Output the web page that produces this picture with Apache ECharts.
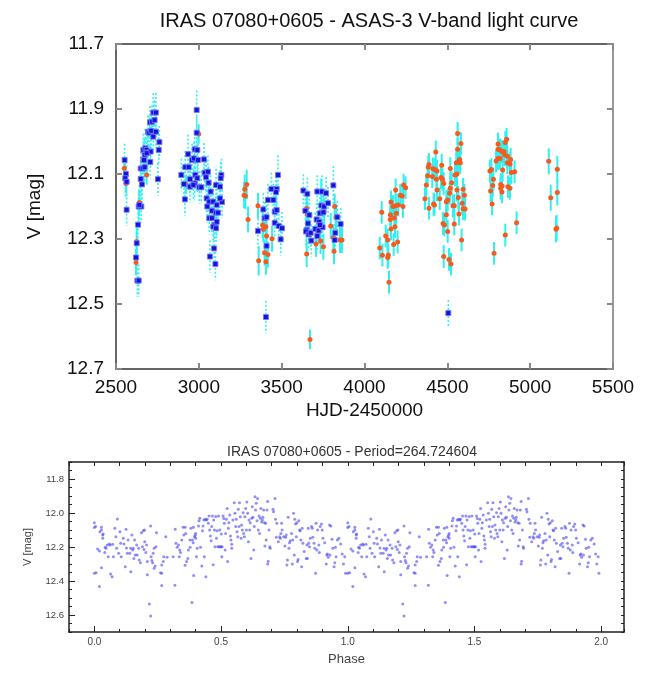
<!DOCTYPE html>
<html>
<head>
<meta charset="utf-8">
<script src="https://cdn.jsdelivr.net/npm/echarts@6/dist/echarts.min.js"></script>
<style>html,body{margin:0;padding:0;background:#fff}#c{width:667px;height:673px}</style>
</head>
<body>
<div id="c"></div>
<script>
// Top panel: [HJD-2450000, V mag, error]
const blueObs = [
[2552,12.057,0.05],[2560,12.100,0.05],[2556,12.113,0.06],[2564,12.124,0.05],[2564,12.210,0.05],
[2629,12.428,0.05],[2637,12.428,0.05],[2621,12.357,0.05],[2625,12.313,0.06],[2633,12.256,0.05],[2637,12.200,0.05],[2653,12.200,0.05],[2641,12.195,0.06],[2649,12.115,0.05],[2657,12.132,0.06],[2649,12.083,0.05],[2661,12.083,0.05],[2673,12.079,0.05],[2665,12.057,0.05],[2669,12.057,0.06],[2665,12.026,0.05],[2677,12.021,0.06],[2685,12.026,0.05],[2693,12.034,0.05],[2709,12.031,0.05],[2673,12.041,0.05],[2685,12.036,0.06],[2707,12.063,0.05],[2693,11.970,0.05],[2701,11.973,0.05],[2713,11.967,0.06],[2725,11.985,0.05],[2705,11.941,0.05],[2717,11.939,0.05],[2733,11.934,0.06],[2725,11.911,0.06],[2741,11.911,0.06],[2741,11.970,0.05],[2762,12.002,0.05],[2758,12.026,0.05],[2753,12.116,0.05],
[2894,12.103,0.05],[2916,12.178,0.05],[2910,12.131,0.05],[2918,12.079,0.05],[2939,12.079,0.05],[2935,12.039,0.06],[2947,12.116,0.05],[2947,12.139,0.05],[2959,12.057,0.05],[2971,12.052,0.05],[2975,12.024,0.05],[2991,12.026,0.05],[2995,12.057,0.05],[2979,12.103,0.05],[2991,12.113,0.05],[2987,11.973,0.05],[2987,11.903,0.06],[2975,12.129,0.05],[2967,12.134,0.05],[3003,12.141,0.05],[3015,12.141,0.05],[3031,12.055,0.05],[3035,12.096,0.05],[3055,12.093,0.05],[3043,12.110,0.05],[3059,12.127,0.05],[3047,12.175,0.05],[3063,12.185,0.05],[3051,12.200,0.05],[3071,12.154,0.05],[3087,12.185,0.05],[3079,12.213,0.05],[3108,12.195,0.05],[3063,12.236,0.05],[3079,12.236,0.05],[3104,12.219,0.05],[3116,12.219,0.05],[3096,12.257,0.05],[3108,12.247,0.05],[3087,12.262,0.05],[3104,12.267,0.05],[3092,12.329,0.05],[3067,12.354,0.05],[3100,12.377,0.05],[3104,12.134,0.05],[3128,12.139,0.05],[3140,12.186,0.05],[3136,12.103,0.05],[3132,12.113,0.05],[3128,12.175,0.05],
[3357,12.275,0.05],[3389,12.209,0.05],[3397,12.236,0.05],[3409,12.233,0.05],[3417,12.180,0.05],[3450,12.180,0.05],[3438,12.146,0.05],[3470,12.146,0.05],[3466,12.156,0.05],[3478,12.103,0.06],[3458,12.216,0.05],[3470,12.211,0.05],[3458,12.250,0.05],[3482,12.260,0.05],[3502,12.267,0.05],[3494,12.301,0.05],[3409,12.321,0.05],[3405,12.540,0.05],
[3631,12.151,0.05],[3655,12.161,0.05],[3643,12.213,0.05],[3667,12.226,0.05],[3659,12.252,0.05],[3651,12.272,0.05],[3647,12.277,0.05],[3663,12.286,0.05],[3675,12.281,0.05],[3679,12.305,0.05],[3715,12.154,0.05],[3743,12.154,0.05],[3768,12.159,0.05],[3739,12.197,0.05],[3756,12.200,0.05],[3780,12.190,0.05],[3731,12.221,0.05],[3752,12.218,0.05],[3711,12.240,0.05],[3727,12.247,0.05],[3703,12.269,0.05],[3723,12.274,0.05],[3715,12.291,0.05],[3747,12.264,0.05],[3731,12.257,0.05],[3812,12.135,0.06],[3836,12.233,0.05],[3824,12.281,0.05],[3856,12.254,0.05],[3820,12.303,0.05],
[4506,12.528,0.04]
];
const orangeObs = [
[2550,12.082,0.03],[2560,12.129,0.03],[2625,12.308,0.04],[2621,12.372,0.04],[2641,12.188,0.04],[2685,12.103,0.03],[2999,11.977,0.03],[2923,12.132,0.03],
[3289,12.132,0.045],[3277,12.147,0.045],[3273,12.165,0.04],[3281,12.168,0.04],[3297,12.240,0.04],[3357,12.198,0.04],[3361,12.367,0.045],[3385,12.257,0.04],[3405,12.262,0.04],[3389,12.270,0.04],[3409,12.291,0.04],[3442,12.299,0.04],[3397,12.342,0.04],[3417,12.348,0.04],[3405,12.370,0.04],
[3651,12.206,0.04],[3655,12.223,0.04],[3651,12.346,0.04],[3671,12.609,0.03],[3707,12.315,0.04],[3735,12.306,0.04],[3752,12.324,0.04],[3739,12.154,0.04],[3756,12.216,0.04],[3796,12.260,0.04],[3820,12.200,0.04],[3828,12.233,0.04],[3812,12.295,0.04],[3816,12.338,0.04],[3852,12.303,0.04],[3864,12.303,0.04],
[4092,12.328,0.035],[4108,12.350,0.035],[4128,12.291,0.035],[4140,12.303,0.035],[4144,12.349,0.035],[4140,12.357,0.035],[4148,12.433,0.035],[4104,12.218,0.035],[4156,12.225,0.035],[4156,12.240,0.035],[4160,12.186,0.035],[4160,12.269,0.035],[4176,12.317,0.035],[4180,12.235,0.035],[4184,12.262,0.035],[4172,12.200,0.035],[4188,12.198,0.035],[4192,12.221,0.035],[4188,12.149,0.035],[4204,12.195,0.035],[4200,12.309,0.035],[4216,12.165,0.035],[4228,12.168,0.035],[4232,12.200,0.035],[4236,12.134,0.035],[4248,12.142,0.035],
[4365,12.176,0.035],[4373,12.134,0.035],[4381,12.105,0.035],[4385,12.079,0.035],[4389,12.071,0.035],[4389,12.205,0.035],[4409,12.108,0.035],[4413,12.084,0.035],[4430,12.032,0.035],[4422,12.195,0.035],[4417,12.192,0.035],[4426,12.086,0.035],[4438,12.091,0.035],[4434,12.116,0.035],[4438,12.149,0.035],[4454,12.176,0.035],[4466,12.073,0.035],[4462,12.111,0.035],[4470,12.116,0.035],[4478,12.129,0.035],[4474,12.252,0.035],[4482,12.257,0.035],[4494,12.185,0.035],[4502,12.180,0.035],[4502,12.277,0.035],[4494,12.225,0.035],[4478,12.354,0.035],[4510,12.363,0.035],[4522,12.377,0.035],[4518,12.083,0.035],[4526,12.127,0.035],[4518,12.144,0.035],[4514,12.159,0.035],[4534,12.198,0.035],[4542,12.198,0.035],[4542,12.254,0.035],[4546,12.103,0.035],[4558,12.100,0.035],[4558,12.149,0.035],[4566,12.172,0.035],[4570,12.223,0.035],[4554,12.065,0.035],[4570,12.059,0.035],[4578,12.065,0.035],[4574,12.055,0.035],[4562,12.024,0.035],[4582,12.006,0.035],[4562,11.975,0.035],[4586,12.303,0.035],[4595,12.147,0.035],[4603,12.165,0.035],[4590,12.190,0.035],[4595,12.207,0.035],[4607,12.208,0.035],
[4757,12.091,0.035],[4766,12.086,0.035],[4778,12.116,0.035],[4774,12.135,0.035],[4761,12.152,0.035],[4770,12.192,0.035],[4782,12.344,0.035],[4794,12.060,0.035],[4806,12.052,0.035],[4818,12.052,0.035],[4806,12.008,0.035],[4806,12.024,0.035],[4818,12.026,0.035],[4830,12.031,0.035],[4842,12.031,0.035],[4834,12.088,0.035],[4822,12.132,0.035],[4830,12.137,0.035],[4822,12.144,0.035],[4830,12.155,0.035],[4850,12.003,0.035],[4858,11.993,0.035],[4846,12.041,0.035],[4862,12.045,0.035],[4862,12.065,0.035],[4878,12.069,0.035],[4882,12.055,0.035],[4886,12.095,0.035],[4906,12.093,0.035],[4866,12.139,0.035],[4878,12.144,0.035],[4850,12.288,0.035],[4918,12.250,0.035],
[5112,12.061,0.04],[5164,12.085,0.04],[5124,12.173,0.04],[5164,12.157,0.04],[5156,12.270,0.04],[5160,12.266,0.04]
];
// Bottom panel: [phase, V mag] for one cycle (plotted again one cycle later)
const phaseObs = [
[0.000,12.057],[0.000,12.086],[0.005,12.080],[0.000,12.355],[0.007,12.351],[0.013,12.212],[0.020,12.433],[0.022,12.110],[0.028,12.084],[0.028,12.100],[0.033,12.129],[0.035,12.124],[0.033,12.149],[0.020,12.224],[0.028,12.322],[0.043,12.202],[0.046,12.208],[0.041,12.233],[0.051,12.188],[0.055,12.257],[0.059,12.182],[0.062,12.188],[0.064,12.359],[0.070,12.375],[0.072,12.184],[0.075,12.257],[0.081,12.090],[0.085,12.139],[0.091,12.035],[0.088,12.208],[0.096,12.237],[0.101,12.110],[0.104,12.178],[0.106,12.257],[0.114,12.149],[0.117,12.182],[0.125,12.096],[0.122,12.316],[0.127,12.206],[0.133,12.159],[0.130,12.237],[0.140,12.237],[0.143,12.208],[0.144,12.345],[0.148,12.129],[0.151,12.218],[0.154,12.208],[0.156,12.267],[0.159,12.159],[0.161,12.247],[0.167,12.188],[0.169,12.247],[0.177,12.276],[0.175,12.208],[0.182,12.292],[0.186,12.116],[0.193,12.104],[0.198,12.100],[0.190,12.198],[0.196,12.214],[0.199,12.169],[0.203,12.233],[0.206,12.188],[0.209,12.286],[0.209,12.363],[0.217,12.535],[0.222,12.606],[0.222,12.076],[0.224,12.257],[0.227,12.280],[0.230,12.292],[0.232,12.237],[0.236,12.325],[0.236,12.208],[0.240,12.312],[0.243,12.198],[0.245,12.116],[0.261,12.351],[0.266,12.355],[0.266,12.306],[0.272,12.286],[0.266,12.427],[0.274,12.257],[0.282,12.139],[0.287,12.261],[0.311,12.257],[0.319,12.096],[0.318,12.425],[0.322,12.178],[0.327,12.202],[0.332,12.188],[0.335,12.257],[0.337,12.218],[0.340,12.233],[0.345,12.159],[0.350,12.084],[0.353,12.129],[0.358,12.084],[0.361,12.120],[0.358,12.308],[0.364,12.286],[0.369,12.267],[0.371,12.218],[0.377,12.159],[0.378,12.202],[0.381,12.090],[0.385,12.527],[0.387,12.159],[0.390,12.175],[0.391,12.084],[0.392,12.367],[0.395,12.139],[0.398,12.131],[0.400,12.120],[0.400,12.149],[0.403,12.257],[0.406,12.208],[0.411,12.076],[0.413,12.045],[0.416,12.031],[0.419,12.202],[0.424,12.312],[0.427,12.104],[0.429,12.076],[0.432,12.041],[0.434,12.257],[0.437,12.037],[0.440,12.375],[0.442,12.041],[0.445,12.037],[0.450,12.061],[0.453,12.018],[0.455,12.100],[0.458,12.135],[0.461,12.163],[0.463,12.080],[0.466,12.018],[0.469,12.304],[0.471,12.041],[0.474,12.100],[0.476,12.198],[0.479,12.020],[0.482,12.149],[0.484,12.104],[0.487,12.198],[0.490,12.018],[0.492,12.198],[0.495,12.100],[0.497,12.198],[0.500,12.198],[0.504,12.198],[0.501,12.124],[0.503,12.257],[0.508,12.018],[0.511,12.033],[0.513,12.061],[0.516,12.218],[0.518,12.120],[0.521,12.037],[0.524,11.973],[0.526,12.286],[0.529,12.090],[0.531,12.057],[0.534,12.012],[0.537,12.135],[0.539,12.159],[0.542,12.208],[0.542,12.184],[0.547,12.041],[0.552,11.939],[0.555,12.002],[0.558,12.080],[0.560,12.037],[0.563,12.110],[0.566,12.139],[0.568,11.978],[0.571,12.080],[0.573,11.939],[0.576,12.022],[0.579,12.149],[0.581,12.071],[0.584,12.100],[0.587,11.998],[0.589,12.120],[0.592,12.139],[0.594,12.022],[0.597,11.973],[0.600,12.100],[0.602,11.935],[0.605,12.002],[0.608,12.169],[0.610,12.041],[0.613,12.100],[0.615,12.057],[0.618,12.267],[0.621,12.031],[0.623,11.963],[0.626,12.025],[0.629,12.218],[0.631,12.080],[0.634,11.904],[0.636,11.982],[0.639,11.943],[0.642,12.045],[0.644,11.914],[0.647,12.100],[0.650,12.018],[0.652,12.120],[0.655,12.031],[0.657,11.973],[0.660,12.053],[0.663,12.041],[0.665,12.025],[0.668,11.982],[0.671,12.057],[0.673,12.194],[0.676,12.061],[0.678,12.159],[0.681,11.982],[0.684,11.933],[0.684,12.300],[0.686,12.284],[0.689,12.100],[0.692,12.198],[0.694,12.208],[0.705,11.978],[0.707,11.992],[0.713,11.914],[0.715,12.037],[0.718,12.143],[0.720,12.061],[0.726,12.169],[0.731,12.139],[0.734,12.149],[0.736,12.120],[0.739,12.061],[0.741,12.100],[0.747,12.139],[0.752,12.194],[0.755,12.143],[0.757,12.129],[0.760,12.306],[0.762,12.276],[0.765,12.025],[0.768,12.208],[0.770,12.175],[0.773,12.163],[0.778,12.120],[0.781,12.300],[0.783,12.159],[0.786,12.002],[0.789,12.247],[0.791,12.037],[0.794,12.065],[0.797,12.139],[0.799,12.057],[0.802,12.286],[0.804,12.273],[0.807,12.045],[0.810,12.100],[0.812,12.104],[0.815,12.159],[0.818,12.316],[0.820,12.090],[0.823,12.178],[0.828,12.227],[0.836,12.267],[0.839,12.188],[0.841,12.267],[0.844,12.090],[0.846,12.178],[0.849,12.198],[0.852,12.149],[0.857,12.080],[0.860,12.090],[0.862,12.143],[0.867,12.178],[0.870,12.208],[0.873,12.355],[0.875,12.061],[0.878,12.218],[0.881,12.100],[0.886,12.188],[0.888,12.233],[0.891,12.080],[0.896,12.065],[0.899,12.100],[0.902,12.149],[0.909,12.175],[0.915,12.300],[0.917,12.247],[0.920,12.241],[0.923,12.261],[0.928,12.071],[0.930,12.247],[0.933,12.076],[0.938,12.155],[0.941,12.208],[0.946,12.316],[0.949,12.292],[0.951,12.202],[0.954,12.257],[0.959,12.159],[0.965,12.149],[0.972,12.182],[0.978,12.241],[0.983,12.300],[0.988,12.257],[0.991,12.355]
];
const phaseLabels = [0, 0.5, 1.0, 1.5, 2.0];
const magLabelsBottom = [11.8, 12.0, 12.2, 12.4, 12.6];

const FONT = 'Liberation Sans, Arial, Helvetica, sans-serif';
const chart = echarts.init(document.getElementById('c'), null, {renderer: 'canvas'});

function errBar(dashed) {
  return function (params, api) {
    const x = api.value(0), y = api.value(1), e = api.value(2);
    const p1 = api.coord([x, y - e]);
    const p2 = api.coord([x, y + e]);
    return {
      type: 'line',
      shape: {x1: p1[0], y1: p1[1], x2: p2[0], y2: p2[1]},
      style: {stroke: '#2ef0f0', lineWidth: dashed ? 1.6 : 2, lineDash: dashed ? [2, 2] : null}
    };
  };
}

const boxLine = {show: true, onZero: false, lineStyle: {color: '#333', width: 1.5}};
const topTick = {show: true, inside: true, length: 6, lineStyle: {color: '#888', width: 2}};
const bLine = {show: true, onZero: false, lineStyle: {color: '#222', width: 1.5}};
const noLine = {show: false, onZero: false};

const option = {
  animation: false,
  backgroundColor: '#fff',
  title: [
    {text: 'IRAS 07080+0605 - ASAS-3 V-band light curve', left: 364, textAlign: 'center', top: 6,
     textStyle: {fontFamily: FONT, fontSize: 20, fontWeight: 'normal', color: '#111'}},
    {text: 'IRAS 07080+0605 - Period=264.724604', left: 347, textAlign: 'center', top: 440,
     textStyle: {fontFamily: FONT, fontSize: 14, fontWeight: 'normal', color: '#333'}}
  ],
  grid: [
    {left: 116, top: 44, width: 497, height: 325},
    {left: 69, top: 462, width: 555, height: 170}
  ],
  xAxis: [
    {gridIndex: 0, type: 'value', position: 'bottom', min: 2500, max: 5500, interval: 500,
     name: 'HJD-2450000', nameLocation: 'middle', nameGap: 32,
     nameTextStyle: {fontFamily: FONT, fontSize: 19, color: '#111'},
     axisLine: boxLine, axisTick: topTick, splitLine: {show: false},
     axisLabel: {fontFamily: FONT, fontSize: 19, color: '#111', margin: 9, formatter: v => String(v)}},
    {gridIndex: 0, type: 'value', position: 'top', min: 2500, max: 5500, interval: 500,
     axisLine: boxLine, axisTick: topTick, splitLine: {show: false}, axisLabel: {show: false}},
    {gridIndex: 1, type: 'value', position: 'bottom', min: -0.1, max: 2.09,
     name: 'Phase', nameLocation: 'middle', nameGap: 21,
     nameTextStyle: {fontFamily: FONT, fontSize: 13, color: '#444'},
     axisLine: bLine,
     axisTick: {show: true, inside: true, length: 6, customValues: phaseLabels, lineStyle: {color: '#222', width: 1}},
     axisLabel: {customValues: phaseLabels, fontFamily: FONT, fontSize: 10, color: '#444', margin: 5,
                 formatter: v => v.toFixed(1)},
     splitLine: {show: false}},
    {gridIndex: 1, type: 'value', position: 'bottom', min: -0.1, max: 2.09, interval: 0.1,
     axisLine: noLine, axisLabel: {show: false}, splitLine: {show: false},
     axisTick: {show: true, inside: true, length: 3, lineStyle: {color: '#222', width: 1}}},
    {gridIndex: 1, type: 'value', position: 'top', min: -0.1, max: 2.09, interval: 0.1,
     axisLine: bLine, axisLabel: {show: false}, splitLine: {show: false},
     axisTick: {show: true, inside: true, length: 4, lineStyle: {color: '#222', width: 1}}}
  ],
  yAxis: [
    {gridIndex: 0, type: 'value', inverse: true, min: 11.7, max: 12.7, interval: 0.2, position: 'left',
     name: 'V [mag]', nameLocation: 'middle', nameGap: 72, nameRotate: 90,
     nameTextStyle: {fontFamily: FONT, fontSize: 19, color: '#111'},
     axisLine: boxLine, axisTick: topTick, splitLine: {show: false},
     axisLabel: {fontFamily: FONT, fontSize: 19, color: '#111', margin: 12, formatter: v => v.toFixed(1)}},
    {gridIndex: 0, type: 'value', inverse: true, min: 11.7, max: 12.7, interval: 0.2, position: 'right',
     axisLine: {show: true, onZero: false, lineStyle: {color: '#777', width: 1.5}}, axisTick: topTick, splitLine: {show: false},
     axisLabel: {show: false}},
    {gridIndex: 1, type: 'value', inverse: true, min: 11.7, max: 12.7, position: 'left',
     name: 'V [mag]', nameLocation: 'middle', nameGap: 36, nameRotate: 90,
     nameTextStyle: {fontFamily: FONT, fontSize: 11, color: '#444'},
     axisLine: bLine,
     axisTick: {show: true, inside: true, length: 6, customValues: magLabelsBottom, lineStyle: {color: '#222', width: 1}},
     axisLabel: {customValues: magLabelsBottom, fontFamily: FONT, fontSize: 9.5, color: '#444', margin: 5,
                 formatter: v => v.toFixed(1)},
     splitLine: {show: false}},
    {gridIndex: 1, type: 'value', inverse: true, min: 11.7, max: 12.7, interval: 0.05, position: 'left',
     axisLine: noLine, axisLabel: {show: false}, splitLine: {show: false},
     axisTick: {show: true, inside: true, length: 3, lineStyle: {color: '#222', width: 1}}},
    {gridIndex: 1, type: 'value', inverse: true, min: 11.7, max: 12.7, interval: 0.05, position: 'right',
     axisLine: bLine, axisLabel: {show: false}, splitLine: {show: false},
     axisTick: {show: true, inside: true, length: 3, lineStyle: {color: '#222', width: 1}}}
  ],
  series: [
    {type: 'custom', xAxisIndex: 0, yAxisIndex: 0, data: blueObs, renderItem: errBar(true),
     encode: {x: 0, y: [1, 2]}, clip: true, z: 1},
    {type: 'custom', xAxisIndex: 0, yAxisIndex: 0, data: orangeObs, renderItem: errBar(false),
     encode: {x: 0, y: [1, 2]}, clip: true, z: 1},
    {type: 'scatter', xAxisIndex: 0, yAxisIndex: 0, data: orangeObs.map(d => [d[0], d[1]]),
     symbol: 'circle', symbolSize: 5, itemStyle: {color: '#f55a1e', opacity: 1}, z: 3},
    {type: 'scatter', xAxisIndex: 0, yAxisIndex: 0, data: blueObs.map(d => [d[0], d[1]]),
     symbol: 'rect', symbolSize: 5,
     itemStyle: {color: '#1414d8', borderColor: 'rgba(120,120,255,0.9)', borderWidth: 1, opacity: 1}, z: 4},
    {type: 'scatter', xAxisIndex: 2, yAxisIndex: 2, data: phaseObs,
     symbol: 'circle', symbolSize: 3, itemStyle: {color: 'rgba(70,70,240,0.75)'}, z: 3},
    {type: 'scatter', xAxisIndex: 2, yAxisIndex: 2, data: phaseObs.map(d => [d[0] + 1, d[1]]),
     symbol: 'circle', symbolSize: 3, itemStyle: {color: 'rgba(70,70,240,0.75)'}, z: 3}
  ]
};
chart.setOption(option);
</script>
</body>
</html>
